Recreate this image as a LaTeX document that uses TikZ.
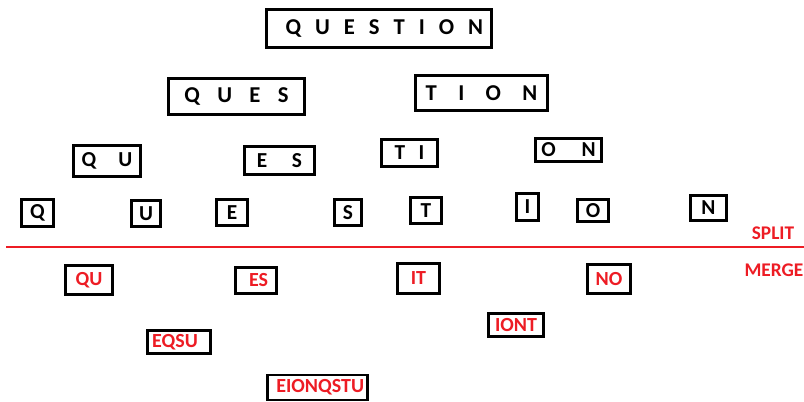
\documentclass[tikz,border=0pt]{standalone}
\usepackage{fontspec}
\setmainfont{Carlito}
\definecolor{splitred}{HTML}{ED1C24}

\begin{document}
\begin{tikzpicture}[x=0.75pt, y=-0.75pt,
    letterbox/.style={draw=black, line width=2.2pt, inner sep=0pt, font=\bfseries\fontsize{16}{16}\selectfont},
    bigbox/.style={letterbox, font=\bfseries\fontsize{17}{17}\selectfont},
    mergebox/.style={letterbox, text=splitred, font=\bfseries\fontsize{15}{15}\selectfont},
    boxsize/.style 2 args={minimum width=#1*0.75pt, minimum height=#2*0.75pt},
    tag/.style={text=splitred, font=\bfseries\fontsize{14.5}{14.5}\selectfont}
]
\useasboundingbox (0,0) rectangle (804,402);

% split side
\node[bigbox, boxsize={225}{38}] (word) at (379, 28.5) {\kern8pt Q\kern10.5pt U\kern10.5pt E\kern10.5pt S\kern10.5pt T\kern10.5pt I\kern10.5pt O\kern10.5pt N};

\node[bigbox, boxsize={136}{36}] (ques) at (236.5, 96.5) {Q\kern13pt U\kern13pt E\kern13pt S};
\node[bigbox, boxsize={132}{35}] (tion) at (481.5, 93) {T\kern16pt I\kern16pt O\kern16pt N};

\node[letterbox, boxsize={67}{31}] (qu) at (107, 161) {Q\kern16.5pt U};
\node[letterbox, boxsize={70}{28}] (es) at (279.5, 160.5) {E\kern18.5pt S};
\node[letterbox, boxsize={56}{27}] (ti) at (409.5, 153) {T\kern10pt I};
\node[letterbox, boxsize={66}{23}] (on) at (568.5, 150) {O\kern19.5pt N};

\node[letterbox, boxsize={32}{27}] (q) at (37.5, 213) {Q};
\node[letterbox, boxsize={29}{26}] (u) at (146, 213.5) {U};
\node[letterbox, boxsize={31}{26}] (e) at (232, 212.5) {E};
\node[letterbox, boxsize={27}{26}] (s) at (348, 212.5) {S};
\node[letterbox, boxsize={31}{26}] (t) at (426, 210.5) {T};
\node[letterbox, boxsize={22}{27}] (i) at (527.5, 207) {I};
\node[letterbox, boxsize={31}{22}] (o) at (593, 210.5) {O};
\node[letterbox, boxsize={36}{25}] (n) at (708.5, 208) {N};

% divider
\coordinate (lineL) at (6, 247);
\coordinate (lineR) at (804, 247);
\draw[splitred, line width=2pt] (lineL) -- (lineR);
\node[tag] (split) at (773, 233) {SPLIT};
\node[tag] (merge) at (774, 270) {MERGE};

% merge side
\node[mergebox, boxsize={47}{29}] (mqu) at (89, 280) {QU};
\node[mergebox, boxsize={41}{26}] (mes) at (256, 280.5) {\kern4pt ES};
\node[mergebox, boxsize={42}{30}] (mit) at (418.5, 278.5) {IT};
\node[mergebox, boxsize={43}{29}] (mno) at (609, 279) {NO};

\node[mergebox, boxsize={63}{23}] (meqsu) at (179, 342) {EQSU\kern6pt};
\node[mergebox, boxsize={55}{23}] (miont) at (516, 325) {IONT};

\node[mergebox, boxsize={100}{25}] (mall) at (317.5, 387.5) {\kern4pt EIONQSTU};

\end{tikzpicture}
\end{document}
